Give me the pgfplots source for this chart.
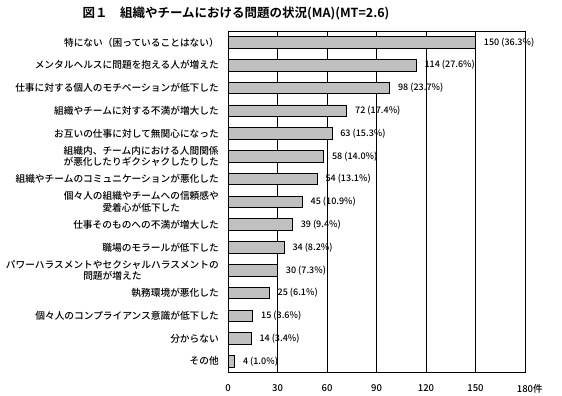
\documentclass[border=0pt]{standalone}
\usepackage{pgfplots}
\pgfplotsset{compat=1.18}
\usepackage{fontspec}
\setmainfont{Noto Sans CJK JP}[UprightFont={* Medium}, BoldFont={* Bold}]
\definecolor{barfill}{HTML}{C0C0C0}
\begin{document}
\begin{tikzpicture}
\useasboundingbox (0,0) rectangle (562pt,-396pt);
\node[font=\fontsize{12.5}{14}\selectfont\bfseries, anchor=center] at (236pt,-13pt) {図１　組織やチームにおける問題の状況(MA)(MT=2.6)};
\begin{axis}[
  at={(228pt,-372.7pt)}, anchor=south west,
  scale only axis, width=297pt, height=341.7pt,
  xbar, bar width=11.5pt,
  xmin=0, xmax=180, ymin=-0.5, ymax=14.5, y dir=reverse,
  xtick={0,30,60,90,120,150,180},
  xticklabels={0,30,60,90,120,150,180\rlap{件}},
  ytick={0,1,2,3,4,5,6,7,8,9,10,11,12,13,14},
  yticklabels={
    {特にない（困っていることはない）},
    {メンタルヘルスに問題を抱える人が増えた},
    {仕事に対する個人のモチベーションが低下した},
    {組織やチームに対する不満が増大した},
    {お互いの仕事に対して無関心になった},
    {組織内、チーム内における人間関係\\が悪化したりギクシャクしたりした},
    {組織やチームのコミュニケーションが悪化した},
    {個々人の組織やチームへの信頼感や\\愛着心が低下した},
    {仕事そのものへの不満が増大した},
    {職場のモラールが低下した},
    {パワーハラスメントやセクシャルハラスメントの\\問題が増えた},
    {執務環境が悪化した},
    {個々人のコンプライアンス意識が低下した},
    {分からない},
    {その他}},
  yticklabel style={font=\fontsize{9.7}{11.5}\selectfont, align=center, anchor=east, inner sep=0pt, xshift=-9pt},
  xticklabel style={font=\fontsize{9.5}{10}\selectfont, anchor=north, inner sep=0pt, yshift=-12pt},
  /pgf/number format/assume math mode=true,
  xmajorgrids, major grid style={black, line width=0.6pt},
  axis line style={black, line width=0.8pt},
  major tick length=0pt,
  point meta=explicit symbolic,
  nodes near coords,
  nodes near coords style={font=\fontsize{9}{10}\selectfont, anchor=west, inner sep=0pt, xshift=8pt},
  clip=false,
]
\addplot[fill=barfill, draw=black, line width=0.8pt] coordinates {
(150,0) [150 (36.3\%)]
(114,1) [114 (27.6\%)]
(98,2) [98 (23.7\%)]
(72,3) [72 (17.4\%)]
(63,4) [63 (15.3\%)]
(58,5) [58 (14.0\%)]
(54,6) [54 (13.1\%)]
(45,7) [45 (10.9\%)]
(39,8) [39 (9.4\%)]
(34,9) [34 (8.2\%)]
(30,10) [30 (7.3\%)]
(25,11) [25 (6.1\%)]
(15,12) [15 (3.6\%)]
(14,13) [14 (3.4\%)]
(4,14) [4 (1.0\%)]
};
\draw[black, line width=1pt] (rel axis cs:1,0) -- (rel axis cs:1,1);
\end{axis}
\end{tikzpicture}
\end{document}
